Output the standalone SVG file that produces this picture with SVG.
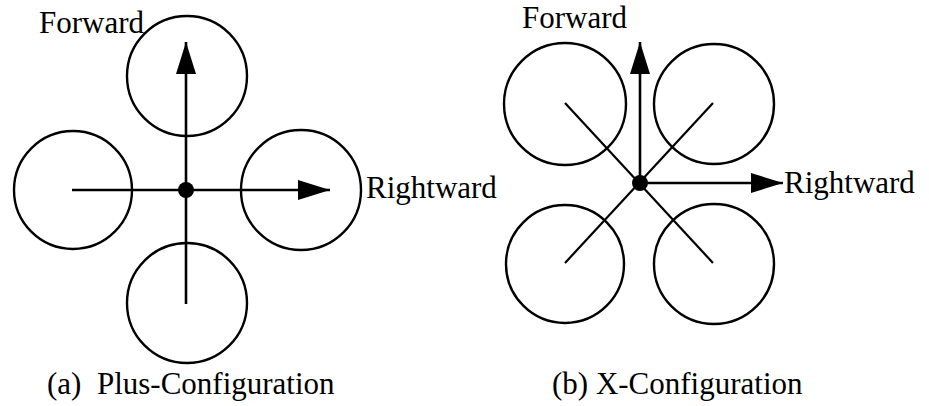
<svg xmlns="http://www.w3.org/2000/svg" width="929" height="406" viewBox="0 0 929 406">
<defs>
<style>
.rotor{fill:none;stroke:#000;stroke-width:2.4}
.arm{stroke:#000;stroke-width:2.2;fill:none}
.ax{stroke:#000;stroke-width:2.6;fill:none}
.t{font-size:31px;fill:#000}
</style>
<marker id="ah" viewBox="0 0 10 10" preserveAspectRatio="none" refX="10" refY="5" markerUnits="userSpaceOnUse" markerWidth="32" markerHeight="20" orient="auto">
<path d="M0,0 L10,5 L0,10 Z" fill="#000"/>
</marker>
</defs>
<g id="plus">
<g id="p-top"><circle class="rotor" cx="187" cy="76" r="60"/></g>
<g id="p-left"><circle class="rotor" cx="73" cy="190" r="59"/></g>
<g id="p-right"><circle class="rotor" cx="301" cy="190" r="60"/></g>
<g id="p-bottom"><circle class="rotor" cx="187" cy="303" r="60"/></g>
<g id="p-connectors">
<line class="ax" x1="72" y1="190" x2="330" y2="190" marker-end="url(#ah)"/>
<line class="ax" x1="186" y1="304" x2="186" y2="42" marker-end="url(#ah)"/>
</g>
<g id="p-center"><circle cx="186" cy="190" r="8" fill="#000"/></g>
<g font-family="'Liberation Serif', 'Times New Roman', serif">
<text class="t" x="39" y="33">Forward</text>
<text class="t" x="366" y="198">Rightward</text>
<text class="t" x="47" y="394" xml:space="preserve">(a)  Plus-Configuration</text>
</g>
</g>
<g id="xconf">
<g id="x-tl"><circle class="rotor" cx="565" cy="104" r="61"/></g>
<g id="x-tr"><circle class="rotor" cx="714" cy="104" r="60"/></g>
<g id="x-bl"><circle class="rotor" cx="565" cy="264" r="59"/></g>
<g id="x-br"><circle class="rotor" cx="714" cy="264" r="60"/></g>
<g id="x-connectors">
<line class="arm" x1="565" y1="103" x2="713" y2="263"/>
<line class="arm" x1="713" y1="103" x2="565" y2="263"/>
<line class="ax" x1="640" y1="183" x2="640" y2="42" marker-end="url(#ah)"/>
<line class="ax" x1="640" y1="183" x2="783" y2="183" marker-end="url(#ah)"/>
</g>
<g id="x-center"><circle cx="640" cy="183" r="8" fill="#000"/></g>
<g font-family="'Liberation Serif', 'Times New Roman', serif">
<text class="t" x="522" y="28">Forward</text>
<text class="t" x="784" y="193">Rightward</text>
<text class="t" x="552" y="394">(b) X-Configuration</text>
</g>
</g>
</svg>
